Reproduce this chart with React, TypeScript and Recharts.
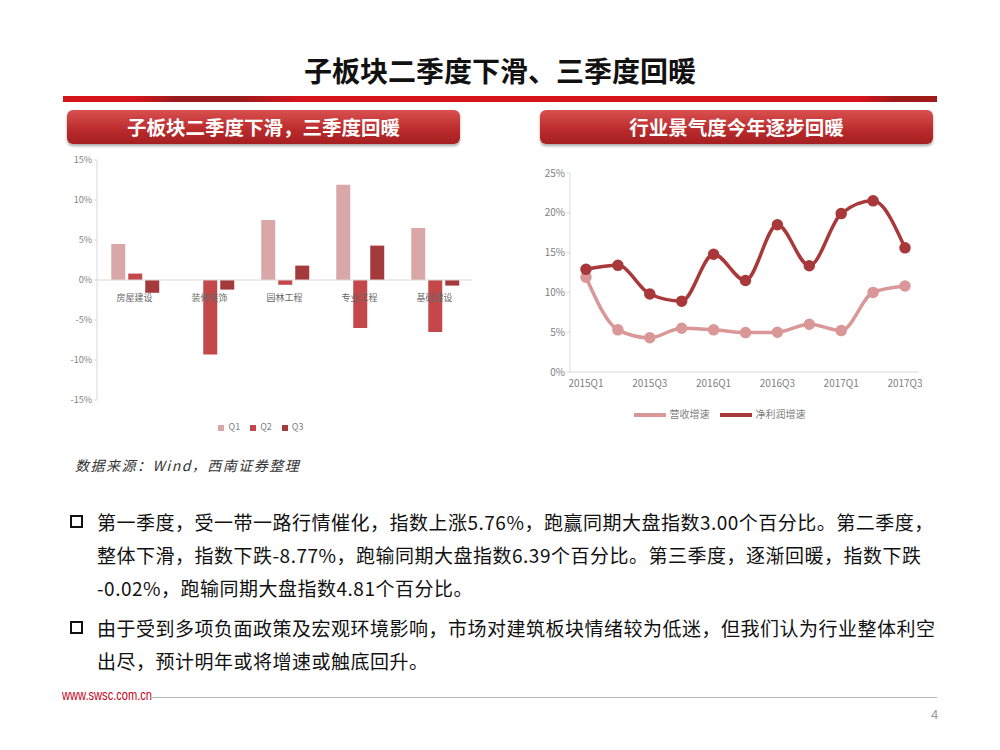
import React from "react"
import {
  BarChart,
  Bar,
  LineChart,
  Line,
  XAxis,
  YAxis,
  Legend,
  ReferenceLine
} from "recharts"

const sectors = ["房屋建设", "装修装饰", "园林工程", "专业工程", "基础建设"]
const q1 = [4.5, 0, 7.5, 11.9, 6.5]
const q2 = [0.8, -9.3, -0.6, -6.0, -6.5]
const q3 = [-1.6, -1.2, 1.8, 4.3, -0.7]
const barTicks = [-15, -10, -5, 0, 5, 10, 15]

const quarters = [
  "2015Q1", "2015Q2", "2015Q3", "2015Q4",
  "2016Q1", "2016Q2", "2016Q3", "2016Q4",
  "2017Q1", "2017Q2", "2017Q3"
]
const revenue = [11.9, 5.3, 4.3, 5.5, 5.3, 4.95, 5.0, 6.0, 5.2, 10.0, 10.8]
const profit = [12.9, 13.4, 9.8, 8.9, 14.8, 11.5, 18.5, 13.35, 19.9, 21.5, 15.6]
const lineTicks = [0, 5, 10, 15, 20, 25]
const lineOrder = ["营收增速", "净利润增速"]

const barData = sectors.map((name, i) => ({ name, Q1: q1[i], Q2: q2[i], Q3: q3[i] }))
const lineData = quarters.map((q, i) => ({ q, 营收增速: revenue[i], 净利润增速: profit[i] }))

const COLORS = {
  q1: "#d9a7a8",
  q2: "#c4484a",
  q3: "#a53a3c",
  rev: "#d99797",
  profit: "#a8383a",
  axis: "#d9d9d9",
  tick: "#808080"
}

const CJK = '"Noto Sans CJK SC", "Noto Sans", sans-serif'
const tickStyle = { fontSize: 9, fill: COLORS.tick, fontFamily: CJK }
const lineTickStyle = { fontSize: 10, fill: COLORS.tick, fontFamily: CJK }

const BAR_H = 290
const BAR_MT = 10
const BAR_PLOT_H = 240

// category labels sit right under the zero line, not at the bottom
const SectorTick = (props: any) => {
  const { x, y, payload } = props
  return (
    <text x={x} y={y - BAR_PLOT_H / 2 + 13} textAnchor="middle"
      style={{ ...tickStyle, fill: "#666" }}>
      {payload.value}
    </text>
  )
}

const header = (left: number, text: string) => (
  <div style={{
    position: "absolute", left, top: 110, width: 393, height: 34,
    borderRadius: 6,
    background: "linear-gradient(#d9504f, #b92a2b 60%, #a51f22)",
    boxShadow: "0 2px 3px rgba(0,0,0,0.35)",
    color: "white", fontWeight: "bold", fontSize: 19.5,
    textAlign: "center", lineHeight: "34px", fontFamily: CJK
  }}>{text}</div>
)

const Bullet = ({ top }: { top: number }) => (
  <div style={{
    position: "absolute", left: 70, top, width: 9, height: 9,
    border: "2.5px solid #111"
  }} />
)

const textLine = (top: number, text: string) => (
  <div style={{
    position: "absolute", left: 97, top, whiteSpace: "nowrap",
    fontSize: 19, letterSpacing: 0.5, lineHeight: "24px", color: "#111", fontFamily: CJK
  }}>{text}</div>
)

export default function App() {
  return (
    <div style={{
      position: "absolute", left: 0, top: 0, width: 1000, height: 750,
      background: "white", overflow: "hidden", fontFamily: CJK
    }}>
      <div style={{
        position: "absolute", left: 0, top: 50, width: 1000, textAlign: "center",
        fontSize: 28, fontWeight: "bold", color: "#111"
      }}>子板块二季度下滑、三季度回暖</div>

      <div style={{
        position: "absolute", left: 63, top: 96, width: 874, height: 6,
        background: "linear-gradient(90deg, #d5141c 0%, #d5141c 8%, #9a1b1b 13%, #9a1b1b 20%, #d5141c 27%, #d5141c 91%, #a01a1a 95%, #a01a1a 100%)"
      }} />

      {header(67, "子板块二季度下滑，三季度回暖")}
      {header(540, "行业景气度今年逐步回暖")}

      <div style={{ position: "absolute", left: 60, top: 150 }}>
        <BarChart
          width={420}
          height={BAR_H}
          data={barData}
          margin={{ top: BAR_MT, right: 8, bottom: 0, left: 0 }}
          barGap={3}
          barCategoryGap="19%"
        >
          <XAxis
            dataKey="name"
            axisLine={false}
            tickLine={false}
            tick={<SectorTick />}
            height={BAR_H - BAR_MT - BAR_PLOT_H - 20}
            interval={0}
          />
          <YAxis
            domain={[-15, 15]}
            ticks={barTicks}
            tickFormatter={(v) => `${v}%`}
            tick={tickStyle}
            axisLine={{ stroke: COLORS.axis }}
            tickLine={{ stroke: COLORS.axis }}
            tickSize={3}
            width={37}
          />
          <ReferenceLine y={0} stroke={COLORS.axis} />
          <Bar dataKey="Q1" fill={COLORS.q1} isAnimationActive={false} />
          <Bar dataKey="Q2" fill={COLORS.q2} isAnimationActive={false} />
          <Bar dataKey="Q3" fill={COLORS.q3} isAnimationActive={false} />
          <Legend
            iconType="square"
            iconSize={6}
            height={20}
            wrapperStyle={{ fontSize: 9, color: COLORS.tick, fontFamily: CJK }}
            formatter={(v) => <span style={{ color: COLORS.tick }}>{v}</span>}
          />
        </BarChart>
      </div>

      <div style={{ position: "absolute", left: 530, top: 160 }}>
        <LineChart
          width={420}
          height={270}
          data={lineData}
          margin={{ top: 13, right: 31, bottom: 0, left: 0 }}
        >
          <XAxis
            dataKey="q"
            interval={1}
            tick={lineTickStyle}
            axisLine={{ stroke: COLORS.axis }}
            tickLine={false}
            height={24}
            padding={{ left: 16, right: 14 }}
          />
          <YAxis
            domain={[0, 25]}
            ticks={lineTicks}
            tickFormatter={(v) => `${v}%`}
            tick={lineTickStyle}
            axisLine={{ stroke: COLORS.axis }}
            tickLine={{ stroke: COLORS.axis }}
            tickSize={3}
            width={40}
          />
          <Line
            type="monotone"
            dataKey="营收增速"
            stroke={COLORS.rev}
            strokeWidth={3.5}
            dot={{ fill: COLORS.rev, stroke: COLORS.rev, r: 4 }}
            isAnimationActive={false}
          />
          <Line
            type="monotone"
            dataKey="净利润增速"
            stroke={COLORS.profit}
            strokeWidth={3.5}
            dot={{ fill: COLORS.profit, stroke: COLORS.profit, r: 4 }}
            isAnimationActive={false}
          />
          <Legend
            iconType="plainline"
            iconSize={32}
            height={31}
            verticalAlign="bottom"
            itemSorter={(item: any) => lineOrder.indexOf(item.value)}
            wrapperStyle={{ fontSize: 10, fontFamily: CJK, paddingTop: 3 }}
            formatter={(v) => <span style={{ color: COLORS.tick }}>{v}</span>}
          />
        </LineChart>
      </div>

      <div style={{
        position: "absolute", left: 75, top: 455, fontSize: 14, fontStyle: "italic",
        letterSpacing: 1.5, color: "#333"
      }}>数据来源：Wind，西南证券整理</div>

      <Bullet top={515} />
      {textLine(510, "第一季度，受一带一路行情催化，指数上涨5.76%，跑赢同期大盘指数3.00个百分比。第二季度，")}
      {textLine(543, "整体下滑，指数下跌-8.77%，跑输同期大盘指数6.39个百分比。第三季度，逐渐回暖，指数下跌")}
      {textLine(576, "-0.02%，跑输同期大盘指数4.81个百分比。")}
      <Bullet top={621} />
      {textLine(616, "由于受到多项负面政策及宏观环境影响，市场对建筑板块情绪较为低迷，但我们认为行业整体利空")}
      {textLine(649, "出尽，预计明年或将增速或触底回升。")}

      <div style={{
        position: "absolute", left: 62, top: 686, fontSize: 15, color: "#c0001a",
        fontFamily: '"Liberation Sans", Arial, sans-serif',
        transform: "scaleX(0.74)", transformOrigin: "left top"
      }}>www.swsc.com.cn</div>
      <div style={{
        position: "absolute", left: 150, top: 697, width: 787, height: 1, background: "#b8b8b8"
      }} />
      <div style={{
        position: "absolute", left: 931, top: 707, fontSize: 13, color: "#999",
        fontFamily: '"Liberation Sans", Arial, sans-serif'
      }}>4</div>
    </div>
  )
}
